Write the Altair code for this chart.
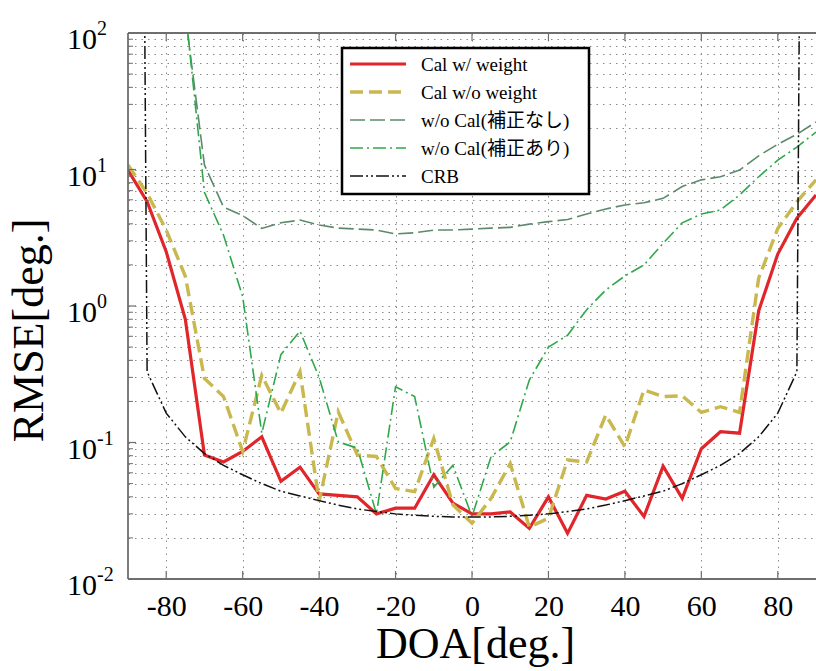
import altair as alt
import pandas as pd

# ---------------- data ----------------
doa = [-90, -85, -80, -75, -70, -65, -60, -55, -50, -45, -40, -35, -30, -25, -20, -15, -10, -5,
       0, 5, 10, 15, 20, 25, 30, 35, 40, 45, 50, 55, 60, 65, 70, 75, 80, 85, 90]

cal_w_weight = [9.9, 5.8, 2.5, 0.8, 0.081, 0.072, 0.086, 0.11, 0.052, 0.066, 0.042, 0.041, 0.040,
                0.030, 0.033, 0.033, 0.058, 0.036, 0.030, 0.030, 0.031, 0.0235, 0.040, 0.0216,
                0.041, 0.0385, 0.044, 0.0287, 0.067, 0.039, 0.090, 0.12, 0.117, 0.92, 2.4, 4.4, 6.5]

cal_wo_weight = [10.8, 6.7, 3.6, 1.65, 0.295, 0.217, 0.086, 0.31, 0.164, 0.33, 0.037, 0.168, 0.081,
                 0.079, 0.046, 0.0436, 0.107, 0.035, 0.0256, 0.039, 0.070, 0.024, 0.0279, 0.0745,
                 0.072, 0.159, 0.093, 0.243, 0.217, 0.22, 0.166, 0.183, 0.166, 1.6, 3.7, 5.8, 8.4]

doa_wo = [-75, -70, -65, -60, -55, -50, -45, -40, -35, -30, -25, -20, -15, -10, -5,
          0, 5, 10, 15, 20, 25, 30, 35, 40, 45, 50, 55, 60, 65, 70, 75, 80, 85, 90]

wo_cal_nashi = [135, 10.8, 5.3, 4.6, 3.7, 4.07, 4.26, 3.92, 3.72, 3.66, 3.6, 3.37, 3.44, 3.6, 3.6,
                3.66, 3.72, 3.77, 3.98, 4.15, 4.3, 4.72, 5.14, 5.5, 5.7, 6.15, 7.5, 8.4, 8.85, 9.9,
                12.6, 15.3, 18.1, 22.3]

wo_cal_ari = [150, 6.8, 3.3, 1.17, 0.117, 0.44, 0.656, 0.30, 0.101, 0.091, 0.030, 0.256, 0.217,
              0.047, 0.068, 0.0287, 0.079, 0.101, 0.287, 0.50, 0.61, 0.94, 1.31, 1.66, 2.0, 2.88,
              4.07, 4.72, 5.05, 6.5, 8.85, 11.7, 14.6, 18.8]

crb = [1e20, 0.33, 0.164, 0.110, 0.083, 0.068, 0.058, 0.050, 0.044, 0.0406, 0.0375, 0.0348, 0.0326,
       0.0312, 0.0300, 0.0293, 0.0288, 0.0285, 0.0284, 0.0285, 0.0288, 0.0293, 0.0300, 0.0312,
       0.0326, 0.0348, 0.0375, 0.0406, 0.044, 0.050, 0.058, 0.068, 0.083, 0.110, 0.164, 0.33, 1e20]

series_names = ["Cal w/ weight", "Cal w/o weight", "w/o Cal(補正なし)", "w/o Cal(補正あり)", "CRB"]

x_ticks = [-80, -60, -40, -20, 0, 20, 40, 60, 80]
y_decades = [0.01, 0.1, 1, 10, 100]
y_exponents = ["-2", "-1", "0", "1", "2"]
y_minor = [0.02, 0.03, 0.04, 0.05, 0.06, 0.07, 0.08, 0.09,
           0.2, 0.3, 0.4, 0.5, 0.6, 0.7, 0.8, 0.9,
           2, 3, 4, 5, 6, 7, 8, 9,
           20, 30, 40, 50, 60, 70, 80, 90]

# ---------------- tables ----------------
frames = []
for name, xs, ys in [(series_names[0], doa, cal_w_weight),
                     (series_names[1], doa, cal_wo_weight),
                     (series_names[2], doa_wo, wo_cal_nashi),
                     (series_names[3], doa_wo, wo_cal_ari),
                     (series_names[4], doa, crb)]:
    frames.append(pd.DataFrame({"doa": xs, "rmse": ys, "series": name}))
df = pd.concat(frames, ignore_index=True)

xt_df = pd.DataFrame({"t": x_ticks})
ymaj_df = pd.DataFrame({"v": y_decades, "e": y_exponents})
ymin_df = pd.DataFrame({"v": y_minor})
one = pd.DataFrame({"a": [0]})

# ---------------- styles ----------------
SERIF = "Liberation Serif, Times New Roman, serif"
LEGF = "Liberation Serif, Noto Sans CJK JP, serif"
W, H = 688, 546
AXC = "#6e6e6e"

styles = {
    series_names[0]: dict(color="#e0262b", strokeWidth=3.2),
    series_names[1]: dict(color="#c9b84e", strokeWidth=3.4, strokeDash=[13, 6]),
    series_names[2]: dict(color="#5b8a6c", strokeWidth=1.6, strokeDash=[15, 5]),
    series_names[3]: dict(color="#2fa84a", strokeWidth=1.6, strokeDash=[13, 4, 2, 4]),
    series_names[4]: dict(color="#111111", strokeWidth=1.5, strokeDash=[13, 3, 2, 3, 2, 3]),
}

xscale = alt.Scale(domain=[-90, 90], nice=False, zero=False)
yscale = alt.Scale(type="log", domain=[0.01, 100], nice=False)

xaxis = alt.Axis(values=x_ticks, grid=True, gridDash=[1.5, 5], gridColor="#8a8a8a", gridWidth=1,
                 ticks=False, domain=False, labelFont=SERIF, labelFontSize=30, labelColor="black",
                 labelPadding=12, labelFlush=False, labelOverlap=False,
                 labelExpr="'' + datum.value",
                 title="DOA[deg.]", titleFont=SERIF, titleFontSize=44, titleFontWeight="normal",
                 titleColor="black", titleX=347, titleY=78, titleBaseline="alphabetic",
                 titleAlign="center")
yaxis = alt.Axis(values=y_decades + y_minor, grid=True, gridDash=[1.5, 5], gridColor="#8a8a8a",
                 gridWidth=1, ticks=False, domain=False, labels=False,
                 title="RMSE[deg.]", titleFont=SERIF, titleFontSize=44, titleFontWeight="normal",
                 titleColor="black", titleX=-86, titleY=297, titleAngle=270,
                 titleBaseline="alphabetic", titleAlign="center")


def X(field):
    return alt.X(field, type="quantitative", scale=xscale, axis=xaxis)


def Y(field):
    return alt.Y(field, type="quantitative", scale=yscale, axis=yaxis)


layers = []

# data lines
for name in series_names:
    layers.append(
        alt.Chart(df).transform_filter(alt.datum.series == name)
        .mark_line(clip=True, **styles[name])
        .encode(x=X("doa"), y=Y("rmse"))
    )

# inward ticks
layers.append(alt.Chart(xt_df).mark_rule(color=AXC, strokeWidth=1.2)
              .encode(x=X("t"), y=alt.value(H), y2=alt.value(H - 8)))
layers.append(alt.Chart(xt_df).mark_rule(color=AXC, strokeWidth=1.2)
              .encode(x=X("t"), y=alt.value(0), y2=alt.value(8)))
layers.append(alt.Chart(ymaj_df).mark_rule(color=AXC, strokeWidth=1.2)
              .encode(y=Y("v"), x=alt.value(0), x2=alt.value(8)))
layers.append(alt.Chart(ymin_df).mark_rule(color=AXC, strokeWidth=1)
              .encode(y=Y("v"), x=alt.value(0), x2=alt.value(5)))

# frame (top, left, bottom)
layers.append(alt.Chart(one).mark_rule(color=AXC, strokeWidth=1.8)
              .encode(x=alt.value(0), x2=alt.value(W), y=alt.value(0)))
layers.append(alt.Chart(one).mark_rule(color=AXC, strokeWidth=1.8)
              .encode(x=alt.value(0), x2=alt.value(W), y=alt.value(H)))
layers.append(alt.Chart(one).mark_rule(color=AXC, strokeWidth=1.8)
              .encode(x=alt.value(0), y=alt.value(0), y2=alt.value(H)))

# y tick labels 10^k
layers.append(alt.Chart(ymaj_df).mark_text(align="right", baseline="alphabetic", dy=16,
                                           font=SERIF, fontSize=30, color="black")
              .encode(y=Y("v"), x=alt.value(-31), text=alt.value("10")))
layers.append(alt.Chart(ymaj_df).mark_text(align="left", baseline="alphabetic", dy=2,
                                           font=SERIF, fontSize=20, color="black")
              .encode(y=Y("v"), x=alt.value(-31), text="e:N"))

# legend
layers.append(alt.Chart(one).mark_rect(fill="white", stroke="black", strokeWidth=2.5)
              .encode(x=alt.value(214), x2=alt.value(461), y=alt.value(15), y2=alt.value(161)))
row_y = [31, 59, 87, 115, 143]
for name, ry in zip(series_names, row_y):
    layers.append(alt.Chart(one).mark_rule(**styles[name])
                  .encode(x=alt.value(222), x2=alt.value(278), y=alt.value(ry)))
    layers.append(alt.Chart(one).mark_text(align="left", baseline="alphabetic", font=LEGF,
                                           fontSize=19, color="black")
                  .encode(x=alt.value(293), y=alt.value(ry + 7), text=alt.value(name)))

chart = alt.layer(*layers).properties(
    width=W, height=H,
    padding={"left": 128, "top": 33, "right": 0, "bottom": 92},
    autosize=alt.AutoSizeParams(type="none"),
    background="white",
).configure_view(stroke=None)

chart.save("out.html", embed_options={"renderer": "svg", "actions": False})
